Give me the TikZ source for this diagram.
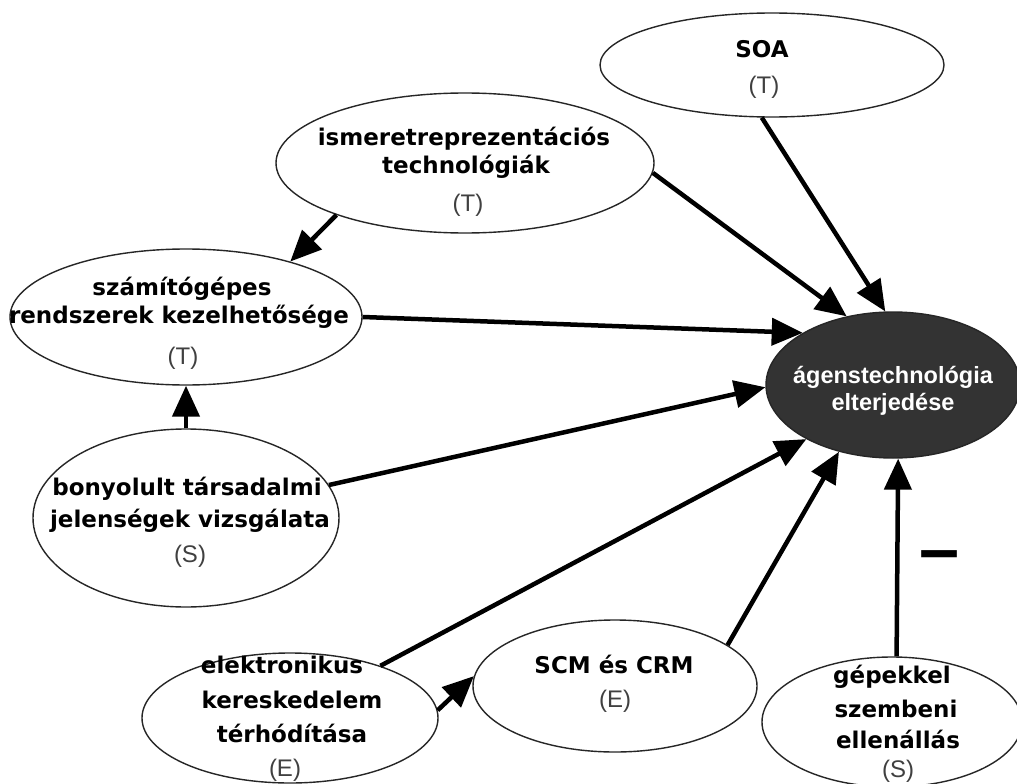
\documentclass[tikz,border=0pt]{standalone}
\usepackage{fontspec}
\newfontfamily\titlefont{DejaVu Sans}
\newfontfamily\arialfont{Liberation Sans}
\usetikzlibrary{shapes.geometric,arrows.meta}

\begin{document}
\begin{tikzpicture}[x=1pt,y=-1pt,
  bubble/.style={ellipse,draw=black!85,line width=1.4pt,fill=white,inner sep=0pt},
  hub/.style={ellipse,draw=black!85,line width=1.4pt,fill=black!80,inner sep=0pt},
  title/.style={font=\titlefont\bfseries\fontsize{23}{30}\selectfont,anchor=base,inner sep=0pt},
  hubtext/.style={font=\arialfont\bfseries\fontsize{23.5}{27}\selectfont,text=white,anchor=base,inner sep=0pt},
  tag/.style={font=\arialfont\fontsize{24}{28}\selectfont,text=black!75,inner sep=0pt},
  link/.style={line width=4.5pt,-{Triangle[length=31pt,width=27pt]}},
]
\path[use as bounding box] (0,0) rectangle (1017,784);
\fill[white] (0,0) rectangle (1017,784);
\clip (0,0) rectangle (1017,784);

% ellipses
\node[bubble,minimum width=344pt,minimum height=104pt] (soa)  at (772,65)  {};
\node[bubble,minimum width=378pt,minimum height=140pt] (ism)  at (465,163) {};
\node[bubble,minimum width=352pt,minimum height=136pt] (szam) at (186,317) {};
\node[bubble,minimum width=306pt,minimum height=178pt] (bony) at (186,518) {};
\node[hub,   minimum width=254pt,minimum height=146pt] (agent) at (893,385) {};
\node[bubble,minimum width=296pt,minimum height=130pt] (elek) at (290,718) {};
\node[bubble,minimum width=284pt,minimum height=132pt] (scm)  at (615,686) {};
\node[bubble,minimum width=260pt,minimum height=130pt] (gep)  at (892,722) {};

% influences
\draw[link] (soa.259) -- (agent.96);
\draw[link] (ism.-3) -- (agent.124);
\draw[link] (ism.202) -- (szam.28);
\draw[link] (szam.0) -- (agent.150);
\draw[link] (bony.90) -- (szam.270);
\draw[link] (bony.13) -- (agent.181);
\draw[link] (elek.30) -- (agent.212);
\draw[link] (elek.3) -- (scm.176);
\draw[link] (scm.20) -- (agent.231);
\draw[link] (gep.86) -- (agent.274);
\node[font=\arialfont\bfseries\fontsize{72}{72}\selectfont,inner sep=0pt] (minus) at (940,562) {–};

% texts
\node[title] (soa1) at (762,58) {SOA};
\node[tag]   (soa2) at (764,87) {(T)};

\node[title] (ism1) at (464,145) {ismeretreprezentációs};
\node[title] (ism2) at (466,173) {technológiák};
\node[tag]   (ism3) at (468,205) {(T)};

\node[title] (szam1) at (182,295) {számítógépes};
\node[title] (szam2) at (179,323) {rendszerek kezelhetősége};
\node[tag]   (szam3) at (183,358) {(T)};

\node[title] (bony1) at (187,495) {bonyolult társadalmi};
\node[title] (bony2) at (190,527) {jelenségek vizsgálata};
\node[tag]   (bony3) at (190,556) {(S)};

\node[hubtext] (agent1) at (893,383) {ágenstechnológia};
\node[hubtext] (agent2) at (893,410) {elterjedése};

\node[title] (elek1) at (282,673) {elektronikus};
\node[title] (elek2) at (292,708) {kereskedelem};
\node[title] (elek3) at (292,742) {térhódítása};
\node[tag]   (elek4) at (285,770) {(E)};

\node[title] (scm1) at (614,673) {SCM és CRM};
\node[tag]   (scm2) at (615,701) {(E)};

\node[title] (gep1) at (892,683) {gépekkel};
\node[title] (gep2) at (896,717) {szembeni};
\node[title] (gep3) at (898,748) {ellenállás};
\node[tag]   (gep4) at (898,771) {(S)};
\end{tikzpicture}
\end{document}
